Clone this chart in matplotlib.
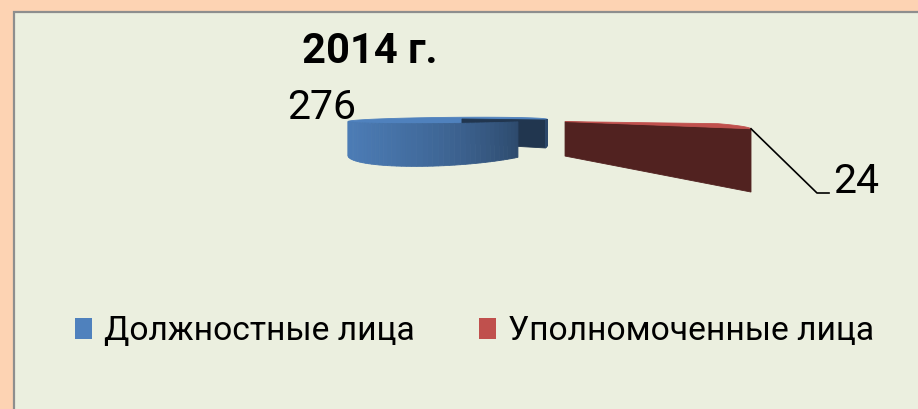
"""Диаграмма 2014 г.: объёмная круговая диаграмма (перспектива, выдвинутый сектор)."""
import numpy as np

import matplotlib
matplotlib.use("Agg")
import matplotlib.pyplot as plt  # noqa: E402
from matplotlib.colors import to_rgb  # noqa: E402
from matplotlib.patches import Patch, Polygon, Rectangle  # noqa: E402

plt.rcParams["font.family"] = ["Roboto", "DejaVu Sans"]

# --- данные ---
TITLE = "2014 г."
LABELS = ["Должностные лица", "Уполномоченные лица"]
VALUES = [276, 24]
COLORS = ["#4F81BD", "#C0504D"]
EXPLODE = [0.0, 1.27]

# --- холст (в пикселях) ---
W, H = 918, 409
BG_OUTER = "#FDD3B3"
BG_INNER = "#EBEFDF"

# --- камера и геометрия пирога (радиус = 1) ---
CENTER = np.array([-0.72, 2.30])   # центр пирога: x вправо, y вглубь
THICK = 0.285
CAM_Z = THICK + 0.071               # высота камеры над дном пирога
FOCAL = 195.0
U0, V0 = 523.0, 113.0
START = -47.2                        # угол кромки малого сектора, град
LIGHT = np.array([np.cos(np.radians(225)), np.sin(np.radians(225))])


def project(x, y, z):
    x, y, z = np.broadcast_arrays(x, y, z)
    return np.column_stack([U0 + FOCAL * x / y, V0 + FOCAL * (CAM_Z - z) / y])


def shade(color, k):
    return tuple(min(1.0, c * k) for c in to_rgb(color))


def slice_faces(t0, t1, explode, color):
    mid = np.radians((t0 + t1) / 2)
    cx = CENTER[0] + explode * np.cos(mid)
    cy = CENTER[1] + explode * np.sin(mid)
    th = np.radians(np.linspace(t0, t1, max(3, int(abs(t1 - t0) / 2) + 1)))
    xs, ys = cx + np.cos(th), cy + np.sin(th)
    faces = []

    # верх
    top = project(np.r_[cx, xs], np.r_[cy, ys], THICK)
    faces.append((np.mean(np.r_[cy, ys]), top, shade(color, 1.0)))

    # боковая стенка (только обращённые к камере сегменты)
    for i in range(len(th) - 1):
        tm = (th[i] + th[i + 1]) / 2
        n = np.array([np.cos(tm), np.sin(tm)])
        pm = np.array([cx + n[0], cy + n[1]])
        if n @ (-pm) <= 0:
            continue
        xx = [xs[i], xs[i + 1], xs[i + 1], xs[i]]
        yy = [ys[i], ys[i + 1], ys[i + 1], ys[i]]
        zz = [0, 0, THICK, THICK]
        k = 0.56 + 0.4 * np.clip(n @ LIGHT, 0, 1)
        faces.append((pm[1], project(xx, yy, zz), shade(color, k)))

    # радиальные грани
    for t, sgn in ((th[0], -1), (th[-1], 1)):
        nang = t + sgn * np.pi / 2
        n = np.array([np.cos(nang), np.sin(nang)])
        rx, ry = cx + np.cos(t), cy + np.sin(t)
        pm = np.array([(cx + rx) / 2, (cy + ry) / 2])
        if n @ (-pm) <= 0:
            continue
        xx = [cx, rx, rx, cx]
        yy = [cy, ry, ry, cy]
        zz = [0, 0, THICK, THICK]
        faces.append((pm[1], project(xx, yy, zz), shade(color, 0.42)))
    return faces, (cx, cy)


fig = plt.figure(figsize=(W / 100, H / 100), dpi=100, facecolor=BG_OUTER)
ax = fig.add_axes([0, 0, 1, 1])
ax.set_xlim(0, W)
ax.set_ylim(H, 0)
ax.axis("off")
ax.add_patch(Rectangle((14, 12), W, H, facecolor=BG_INNER, edgecolor="#8E8E8E", lw=1.6, zorder=0))

# сектора: последний сектор начинается с START, остальные идут далее против часовой
total = sum(VALUES)
spans = [360.0 * v / total for v in VALUES]
all_faces = []
anchors = {}
a = START
for i in reversed(range(len(VALUES))):
    f, c = slice_faces(a, a + spans[i], EXPLODE[i], COLORS[i])
    all_faces += f
    anchors[i] = (a, c)
    a += spans[i]

all_faces.sort(key=lambda t: -t[0])
for z, (_, verts, col) in enumerate(all_faces):
    ax.add_patch(Polygon(verts, closed=True, facecolor=col, edgecolor=col, lw=0.6, zorder=2 + z * 0.01))

# подписи значений
ax.text(322, 119, str(VALUES[0]), ha="center", va="baseline", fontsize=29.5, zorder=10)
t_red, (qx, qy) = anchors[1]
lead0 = project(qx + np.cos(np.radians(t_red)), qy + np.sin(np.radians(t_red)), THICK)[0]
ax.plot([lead0[0], 817, 829], [lead0[1], 193, 193], color="black", lw=1.2, zorder=10)
ax.text(833, 193, str(VALUES[1]), ha="left", va="baseline", fontsize=29.5, zorder=10)

# заголовок
ax.text(370, 63, TITLE, ha="center", va="baseline", fontsize=30, fontweight="bold", zorder=10)

# легенда
handles = [Patch(facecolor=c, edgecolor="none") for c in COLORS]
ax.legend(handles, LABELS, ncol=2, loc="center", bbox_to_anchor=(0.517, 0.19),
          frameon=False, fontsize=24.2, handlelength=0.5, handleheight=0.62,
          handletextpad=0.36, columnspacing=1.9)

fig.savefig("out.png", dpi=100, facecolor=BG_OUTER)
